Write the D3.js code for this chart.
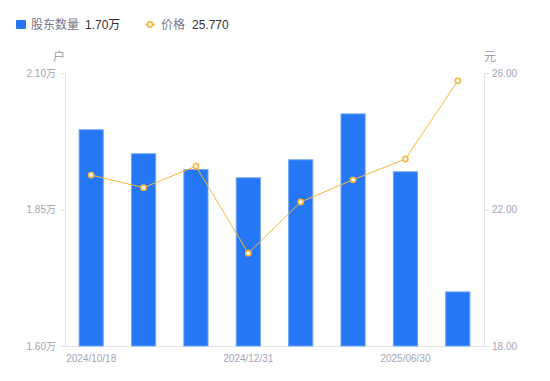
<!DOCTYPE html>
<html>
<head>
<meta charset="utf-8">
<script src="https://cdn.jsdelivr.net/npm/d3@7"></script>
<style>
  body{margin:0;background:#fff;}
  text{font-family:"Liberation Sans","Noto Sans CJK SC",sans-serif;}
</style>
</head>
<body>
<div id="chart"></div>
<script>
// data
var dates=["2024/10/18","2024/11/08","2024/11/29","2024/12/31","2025/01/24","2025/03/31","2025/06/30","2025/08/29"];
var holders=[1.997,1.953,1.924,1.909,1.942,2.026,1.920,1.700];   // 万户
var prices=[23.01,22.64,23.27,20.72,22.22,22.87,23.48,25.77];
var leftTicks=[1.60,1.85,2.10];
var rightTicks=[18,22,26];
var shownDates=["2024/10/18","2024/12/31","2025/06/30"];

var W=550,H=381;
var pLeft=65,pRight=484,pTop=73,pBottom=346;
var barColor="#2577f5",lineColor="#f7b53f",axisColor="#e3e4e8",tickText="#a3a5b3";

var svg=d3.select("#chart").append("svg").attr("width",W).attr("height",H);

var x=d3.scaleBand().domain(dates).range([pLeft,pRight]).paddingInner(0.52).paddingOuter(0.26);
var yL=d3.scaleLinear().domain([1.60,2.10]).range([pBottom,pTop]);
var yR=d3.scaleLinear().domain([18,26]).range([pBottom,pTop]);

// axes
var axL=svg.append("g").attr("transform","translate("+pLeft+",0)")
  .call(d3.axisLeft(yL).tickValues(leftTicks).tickSize(5).tickPadding(4).tickFormat(function(d){return d3.format(".2f")(d)+"万";}));
var axR=svg.append("g").attr("transform","translate("+pRight+",0)")
  .call(d3.axisRight(yR).tickValues(rightTicks).tickSize(5).tickPadding(3).tickFormat(d3.format(".2f")));
var axB=svg.append("g").attr("transform","translate(0,"+pBottom+")")
  .call(d3.axisBottom(x).tickValues(shownDates).tickSize(0).tickPadding(9));
axB.select(".domain").remove();
svg.append("line").attr("x1",pLeft-5).attr("x2",pRight+6).attr("y1",pBottom+0.5).attr("y2",pBottom+0.5).attr("stroke",axisColor);

[axL,axR,axB].forEach(function(a){
  a.select(".domain").attr("stroke",axisColor);
  a.selectAll(".tick line").attr("stroke",axisColor);
  a.selectAll(".tick text").attr("fill",tickText).style("font-size","10px")
   .style("font-family","'Liberation Sans','Noto Sans CJK SC',sans-serif");
});

// axis titles
svg.append("text").attr("x",59).attr("y",61).attr("text-anchor","middle").attr("fill","#9a9cab")
  .style("font-size","12px").style("font-family","'Noto Sans CJK SC'").text("户");
svg.append("text").attr("x",490).attr("y",61).attr("text-anchor","middle").attr("fill","#9a9cab")
  .style("font-size","12px").style("font-family","'Noto Sans CJK SC'").text("元");

// bars
svg.selectAll(".bar").data(holders).enter().append("rect")
  .attr("x",function(d,i){return x(dates[i])+0.5;})
  .attr("y",function(d){return yL(d)+0.5;})
  .attr("width",x.bandwidth()-1)
  .attr("height",function(d){return pBottom-yL(d)-0.5;})
  .attr("fill",barColor).attr("stroke","#6ea4f8").attr("stroke-width",1);

// line
var cx=function(d,i){return x(dates[i])+x.bandwidth()/2;};
svg.append("path").datum(prices)
  .attr("d",d3.line().x(cx).y(function(d){return yR(d);}))
  .attr("fill","none").attr("stroke",lineColor).attr("stroke-width",1);
svg.selectAll(".pt").data(prices).enter().append("circle")
  .attr("cx",cx).attr("cy",function(d){return yR(d);}).attr("r",2.6)
  .attr("fill","#fff").attr("stroke",lineColor).attr("stroke-width",1.6);

// legend
var lg=svg.append("g");
lg.append("rect").attr("x",16).attr("y",20).attr("width",10).attr("height",9).attr("rx",1).attr("fill",barColor);
lg.append("text").attr("x",31).attr("y",29).attr("fill","#75778a").style("font-size","12px")
  .style("font-family","'Noto Sans CJK SC'").text("股东数量");
lg.append("text").attr("x",85).attr("y",29).attr("fill","#333").style("font-size","12px").text(d3.format(".2f")(holders[7])+"万");
lg.append("line").attr("x1",145).attr("x2",155).attr("y1",24.5).attr("y2",24.5).attr("stroke",lineColor).attr("stroke-width",1.5);
lg.append("circle").attr("cx",150).attr("cy",24.5).attr("r",2.6).attr("fill","#fff").attr("stroke",lineColor).attr("stroke-width",1.6);
lg.append("text").attr("x",161).attr("y",29).attr("fill","#75778a").style("font-size","12px")
  .style("font-family","'Noto Sans CJK SC'").text("价格");
lg.append("text").attr("x",192).attr("y",29).attr("fill","#333").style("font-size","12px").text(d3.format(".3f")(prices[7]));
</script>
</body>
</html>
